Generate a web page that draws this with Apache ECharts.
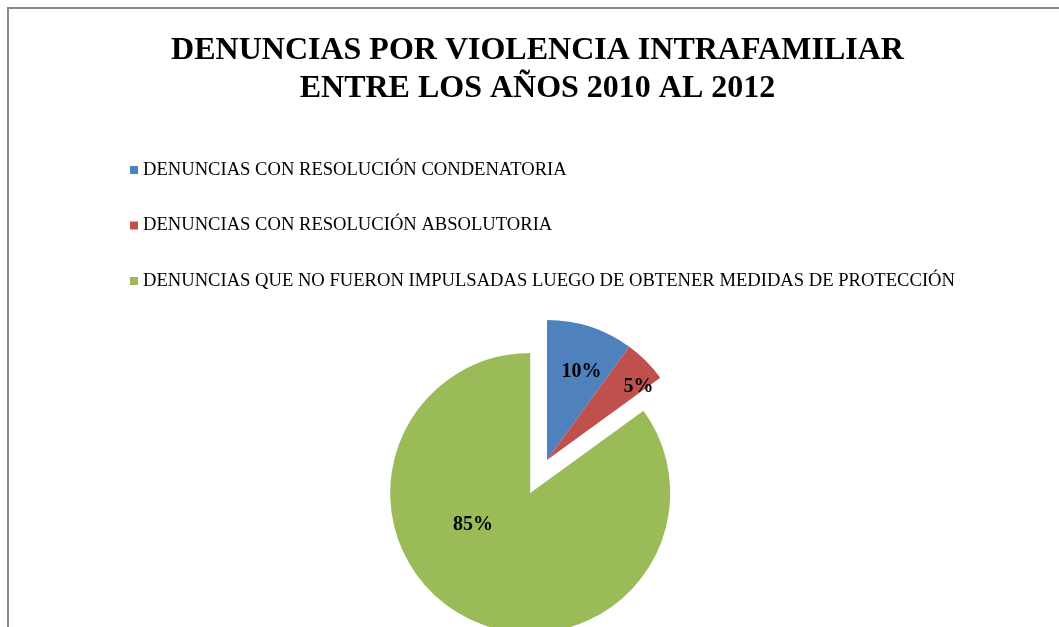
<!DOCTYPE html>
<html>
<head>
<meta charset="utf-8">
<script src="https://cdn.jsdelivr.net/npm/echarts@6/dist/echarts.min.js"></script>
<style>
html,body{margin:0;padding:0;background:#fff;overflow:hidden;}
#frame{position:absolute;left:7px;top:7px;width:1200px;height:800px;border:2px solid #878787;box-sizing:border-box;}
#chart{position:absolute;left:0;top:0;width:1059px;height:627px;}
</style>
</head>
<body>
<div id="frame"></div>
<div id="chart"></div>
<script>
const titleLines = ['DENUNCIAS POR VIOLENCIA INTRAFAMILIAR', 'ENTRE LOS AÑOS 2010 AL 2012'];
const categories = [
  'DENUNCIAS CON RESOLUCIÓN CONDENATORIA',
  'DENUNCIAS CON RESOLUCIÓN ABSOLUTORIA',
  'DENUNCIAS QUE NO FUERON IMPULSADAS LUEGO DE OBTENER MEDIDAS DE PROTECCIÓN'
];
const values = [10, 5, 85];
const colors = ['#4F81BD', '#C0504D', '#9BBB59'];
const explodedIndex = 2;
const labelOffsets = [[12, -19], [40, -22], [-24, -33]];

const serif = '"Liberation Serif", "Times New Roman", serif';
const chart = echarts.init(document.getElementById('chart'), null, {renderer: 'canvas'});
chart.setOption({
  animation: false,
  backgroundColor: 'transparent',
  color: colors,
  title: {
    text: titleLines.join('\n'),
    left: 537.5,
    textAlign: 'center',
    top: 32,
    padding: 0,
    textStyle: {fontFamily: serif, fontSize: 32, fontWeight: 'bold', color: '#000', lineHeight: 37.5}
  },
  legend: {
    orient: 'vertical',
    left: 130,
    top: 160.5,
    padding: 0,
    itemWidth: 8,
    itemHeight: 8,
    itemGap: 36.5,
    icon: 'rect',
    selectedMode: false,
    textStyle: {fontFamily: serif, fontSize: 18.6, color: '#000'},
    data: categories
  },
  series: [{
    type: 'pie',
    center: [547, 460],
    radius: 140,
    startAngle: 90,
    clockwise: true,
    selectedMode: 'single',
    selectedOffset: 37,
    silent: true,
    emphasis: {disabled: true},
    itemStyle: {borderWidth: 0},
    label: {
      position: 'inside',
      formatter: '{d}%',
      fontFamily: serif,
      fontSize: 20,
      fontWeight: 'bold',
      color: '#000'
    },
    labelLine: {show: false},
    data: categories.map((name, i) => ({
      name: name,
      value: values[i],
      selected: i === explodedIndex,
      label: {offset: labelOffsets[i]},
      select: {label: {offset: labelOffsets[i]}}
    }))
  }]
});
</script>
</body>
</html>
